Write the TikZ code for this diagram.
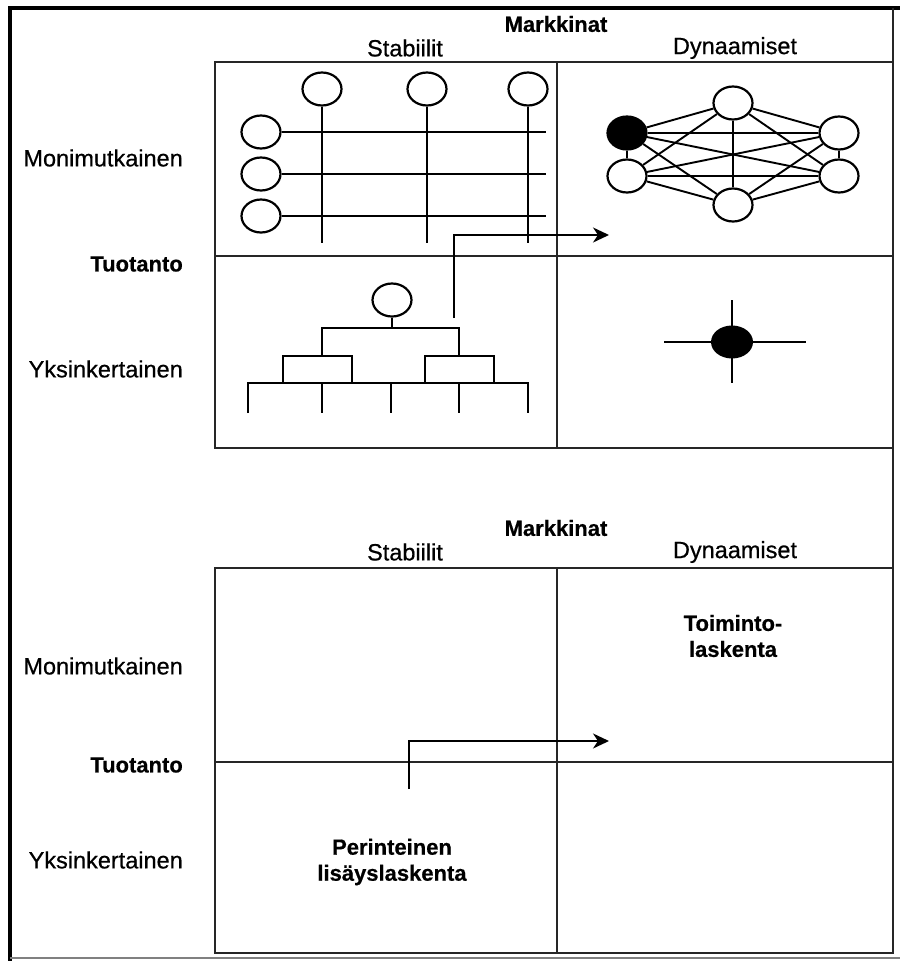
\documentclass[tikz,border=0pt]{standalone}
\usepackage{fontspec}
\setmainfont{Liberation Sans}
\newfontfamily\labfont[FakeBold=0.6]{Liberation Sans}
\newfontfamily\blabfont[FakeBold=0.5]{Liberation Sans Bold}
\usetikzlibrary{shapes.geometric,arrows.meta}
\begin{document}
\begin{tikzpicture}[x=1pt,y=-1pt,
  gridline/.style={line width=2.6pt,black!85},
  fig/.style={line width=2.3pt},
  circ/.style={ellipse,draw,line width=2.2pt,minimum width=39pt,minimum height=33pt,inner sep=0pt,fill=white},
  blob/.style={circ,fill=black},
  lab/.style={font=\labfont\fontsize{23.5}{28}\selectfont,inner sep=0pt},
  blab/.style={font=\blabfont\fontsize{22}{26}\selectfont,inner sep=0pt,align=center},
  rowlab/.style={lab,anchor=east},
  brow/.style={blab,anchor=east},
  arr/.style={line width=2.3pt,-{Stealth[length=16pt,width=15pt,inset=5pt]}}
]
% canvas
\fill[white] (0,0) rectangle (900,961);
\useasboundingbox (0,0) rectangle (900,961);

% outer frame
\draw[line width=4pt] (10,961) -- (10,8) -- (900,8);
\draw[line width=2.5pt,black!85] (893,8) -- (893,953);
\draw[line width=1.5pt,black!50] (10,958) -- (900,958);

% ---------- upper matrix ----------
\node[blab] (mk1) at (556,24) {Markkinat};
\node[lab] (st1) at (405,48) {Stabiilit};
\node[lab] (dy1) at (735,48) {Dynaamiset};
\draw[gridline] (215,62) rectangle (893,448);
\draw[gridline] (557,62) -- (557,448);
\draw[gridline] (215,256) -- (893,256);
\node[rowlab] (mo1) at (183,158) {Monimutkainen};
\node[brow] (tu1) at (183,264) {Tuotanto};
\node[rowlab] (yk1) at (183,369) {Yksinkertainen};

% matrix organisation: columns and rows
\node[circ] (c1) at (322,89) {};
\node[circ] (c2) at (427,89) {};
\node[circ] (c3) at (528,89) {};
\node[circ] (r1) at (261,132) {};
\node[circ] (r2) at (261,174) {};
\node[circ] (r3) at (261,216) {};
\coordinate (c1e) at (322,243);
\coordinate (c2e) at (427,243);
\coordinate (c3e) at (528,243);
\coordinate (r1e) at (546,132);
\coordinate (r2e) at (546,174);
\coordinate (r3e) at (546,216);
\foreach \n in {c1,c2,c3,r1,r2,r3} \draw[fig] (\n) -- (\n e);

% network organisation
\node[circ] (nt) at (733,103) {};
\node[blob] (nl1) at (627,133) {};
\node[circ] (nr1) at (839,133) {};
\node[circ] (nl2) at (627,176) {};
\node[circ] (nr2) at (839,176) {};
\node[circ] (nb) at (733,205) {};
\foreach \a/\b in {nt/nl1,nt/nr1,nt/nl2,nt/nr2,nt/nb,
                   nl1/nr1,nl1/nl2,nl1/nr2,nl1/nb,
                   nr1/nl2,nr1/nr2,nr1/nb,
                   nl2/nr2,nl2/nb,nr2/nb}
  \draw[line width=1.9pt] (\a) -- (\b);

% hierarchy
\node[circ] (h0) at (392,300) {};
\coordinate (hj) at (392,328);
\draw[fig] (h0) -- (hj);
\draw[fig] (322,356) -- (322,328) -- (459,328) -- (459,356);
\draw[fig] (283,383) -- (283,356) -- (352,356) -- (352,383);
\draw[fig] (425,383) -- (425,356) -- (494,356) -- (494,383);
\draw[fig] (248,413) -- (248,383) -- (528,383) -- (528,413);
\foreach \x in {322,391,459} \draw[fig] (\x,383) -- (\x,413);

% single unit
\node[ellipse,fill=black,minimum width=42pt,minimum height=33pt,inner sep=0pt] (su) at (732,342) {};
\coordinate (suw) at (664,342);
\coordinate (sue) at (806,342);
\coordinate (sun) at (732,300);
\coordinate (sus) at (732,383);
\draw[fig] (suw) -- (sue);
\draw[fig] (sun) -- (sus);

% move from hierarchy towards network
\coordinate (a1s) at (454,318);
\coordinate (a1e) at (609,235);
\draw[arr] (a1s) |- (a1e);

% ---------- lower matrix ----------
\node[blab] (mk2) at (556,528) {Markkinat};
\node[lab] (st2) at (405,552) {Stabiilit};
\node[lab] (dy2) at (735,552) {Dynaamiset};
\draw[gridline] (215,568) rectangle (893,953);
\draw[gridline] (557,568) -- (557,953);
\draw[gridline] (215,762) -- (893,762);
\node[rowlab] (mo2) at (183,666) {Monimutkainen};
\node[brow] (tu2) at (183,765) {Tuotanto};
\node[rowlab] (yk2) at (183,860) {Yksinkertainen};

\node[blab] (toim) at (733,636) {Toiminto-\\laskenta};
\node[blab] (peri) at (392,862) {Perinteinen\\lisäyslaskenta};

\coordinate (a2s) at (409,789);
\coordinate (a2e) at (609,741);
\draw[arr] (a2s) |- (a2e);
\end{tikzpicture}
\end{document}
